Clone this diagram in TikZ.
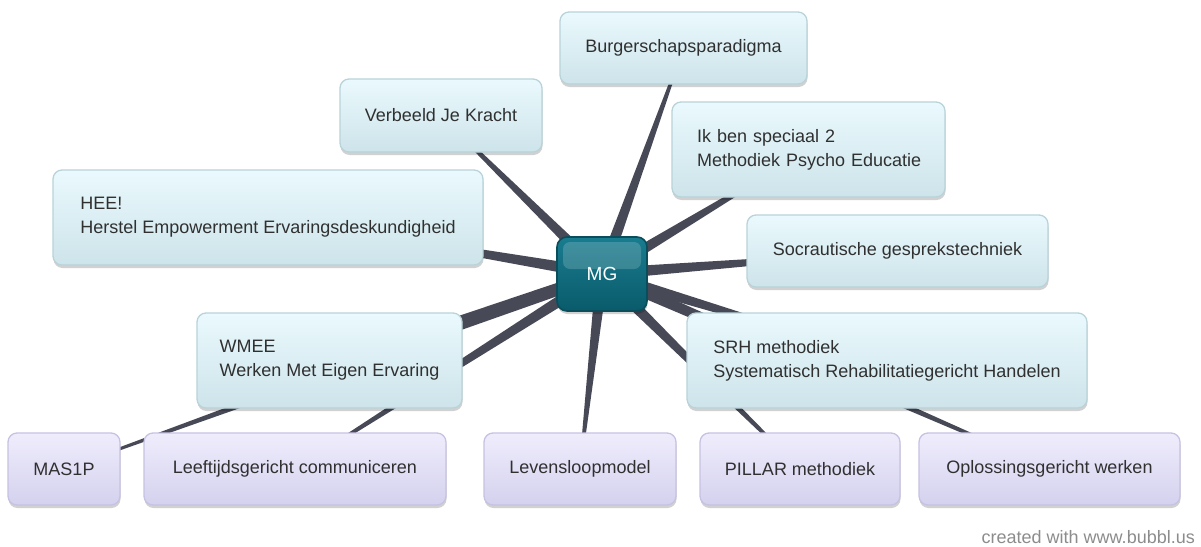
\documentclass[tikz,border=0pt]{standalone}
\usepackage{fontspec}
\setmainfont{Liberation Sans}
\usetikzlibrary{calc,shadows}
\pgfdeclarelayer{bg}
\pgfsetlayers{bg,main}
\definecolor{bluetop}{HTML}{EAF9FD}
\definecolor{bluebot}{HTML}{CDE4EA}
\definecolor{bluebd}{HTML}{B9D3D9}
\definecolor{purtop}{HTML}{EFEDFC}
\definecolor{purbot}{HTML}{D4D1EE}
\definecolor{purbd}{HTML}{C6C2E2}
\definecolor{linec}{HTML}{474956}
\definecolor{txt}{HTML}{303030}
\definecolor{footc}{HTML}{8C8C8C}
\definecolor{mgtop}{HTML}{1A7C8F}
\definecolor{mgbot}{HTML}{095B6B}
\definecolor{mgbd}{HTML}{0A4E5C}
\newcommand{\mmtaper}[2]{%
  \fill[linec] ($(#1.center)!6pt!90:(#2.center)$) -- ($(#2.center)!1pt!-90:(#1.center)$)
    -- ($(#2.center)!1pt!90:(#1.center)$) -- ($(#1.center)!6pt!-90:(#2.center)$) -- cycle;}
\tikzset{
  box/.style={rounded corners=9pt, line width=1.3pt, inner sep=0pt, text=txt,
    font=\fontsize{18}{24}\selectfont, align=left,
    drop shadow={shadow xshift=0.5pt, shadow yshift=-3pt, opacity=0.18, fill=black}},
  bluebox/.style={box, draw=bluebd, top color=bluetop, bottom color=bluebot},
  purplebox/.style={box, draw=purbd, top color=purtop, bottom color=purbot},
  centerbox/.style={rounded corners=10pt, line width=1.6pt, draw=mgbd, top color=mgtop,
    bottom color=mgbot, text=white, font=\fontsize{19}{22}\selectfont, inner sep=0pt,
    drop shadow={shadow xshift=0.5pt, shadow yshift=-3pt, opacity=0.18, fill=black},
    path picture={\fill[white, opacity=0.17, rounded corners=7pt]
      ($(path picture bounding box.north west)+(6pt,-5pt)$) rectangle
      ($(path picture bounding box.east)+(-6pt,5pt)$);}},
  foot/.style={text=footc, font=\fontsize{18}{22}\selectfont, inner sep=0pt}
}
\begin{document}
\begin{tikzpicture}[x=1pt, y=-1pt]
\useasboundingbox (0,0) rectangle (1201,546);
\node[bluebox, minimum width=247pt, minimum height=72pt] (burg) at (683.5,48) {Burgerschapsparadigma};
\node[bluebox, minimum width=202pt, minimum height=73pt] (vjk) at (441,115.5) {Verbeeld Je Kracht};
\node[bluebox, minimum width=273pt, minimum height=95pt, text width=223pt, inner xsep=25pt] (ikben) at (808.5,149.5) {\mbox{Ik ben speciaal 2}\\\mbox{Methodiek Psycho Educatie}};
\node[bluebox, minimum width=430pt, minimum height=95pt] (hee) at (268,217.5) {HEE!\\Herstel Empowerment Ervaringsdeskundigheid};
\node[bluebox, minimum width=301pt, minimum height=72pt] (socr) at (897.5,251) {Socrautische gesprekstechniek};
\node[centerbox, minimum width=90pt, minimum height=74pt] (mg) at (602,274) {MG};
\node[bluebox, minimum width=265pt, minimum height=95pt] (wmee) at (329.5,360.5) {WMEE\\Werken Met Eigen Ervaring};
\node[bluebox, minimum width=400pt, minimum height=95pt] (srh) at (887,360.5) {SRH methodiek\\Systematisch Rehabilitatiegericht Handelen};
\node[purplebox, minimum width=112pt, minimum height=72pt] (mas) at (64,469) {MAS1P};
\node[purplebox, minimum width=302pt, minimum height=72pt] (leeft) at (295,469) {Leeftijdsgericht communiceren};
\node[purplebox, minimum width=192pt, minimum height=72pt] (leven) at (580,469) {Levensloopmodel};
\node[purplebox, minimum width=200pt, minimum height=72pt] (pillar) at (800,469) {PILLAR methodiek};
\node[purplebox, minimum width=261pt, minimum height=72pt] (oplos) at (1049.5,469) {Oplossingsgericht werken};
\node[foot, anchor=base east] (footer) at (1195,543) {created with www.bubbl.us};
\begin{pgfonlayer}{bg}
\foreach \c in {burg,vjk,ikben,hee,socr,wmee,srh,mas,leeft,leven,pillar,oplos}{\mmtaper{mg}{\c}}
\end{pgfonlayer}
\end{tikzpicture}
\end{document}
